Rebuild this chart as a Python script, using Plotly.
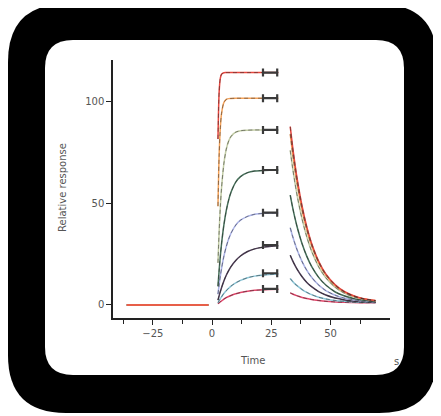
import plotly.graph_objects as go

# ---------------- data ----------------
series_names = ["C1", "C2", "C3", "C4", "C5", "C6", "C7", "C8"]
series_colors = ["#e8473f", "#f4a259", "#c3cda6", "#46705a", "#aab2e6", "#4a3a52", "#8cc6d8", "#e2476b"]

baseline_x = [-36, -1.5]
baseline_y = [0, 0]

assoc_x = [2.5, 3, 3.5, 4, 5, 6, 7, 8, 10, 12, 15, 18, 22, 28]
assoc_c1 = [81.6, 104.9, 111.6, 113.5, 114.2, 114.3, 114.3, 114.3, 114.3, 114.3, 114.3, 114.3, 114.3, 114.3]
assoc_c2 = [48.6, 74.0, 87.2, 94.1, 99.6, 101.1, 101.5, 101.6, 101.7, 101.7, 101.7, 101.7, 101.7, 101.7]
assoc_c3 = [20.7, 36.4, 48.4, 57.4, 69.6, 76.6, 80.6, 82.9, 85.0, 85.7, 86.0, 86.1, 86.1, 86.1]
assoc_c4 = [9.2, 17.2, 24.1, 30.0, 39.4, 46.4, 51.6, 55.4, 60.4, 63.1, 65.1, 65.9, 66.2, 66.4]
assoc_c5 = [5.3, 10.0, 14.2, 17.9, 24.0, 28.7, 32.4, 35.3, 39.3, 41.7, 43.6, 44.6, 45.1, 45.3]
assoc_c6 = [2.4, 4.6, 6.6, 8.5, 11.8, 14.6, 16.9, 18.9, 21.9, 24.1, 26.3, 27.6, 28.5, 29.1]
assoc_c7 = [1.1, 2.2, 3.1, 4.0, 5.7, 7.0, 8.2, 9.3, 10.9, 12.1, 13.4, 14.2, 14.8, 15.3]
assoc_c8 = [0.6, 1.1, 1.6, 2.0, 2.9, 3.6, 4.2, 4.7, 5.5, 6.1, 6.8, 7.2, 7.5, 7.7]

dissoc_x = [33, 34, 35, 36, 38, 40, 42, 45, 48, 52, 56, 60, 64, 69]
dissoc_c1 = [87.7, 77.9, 69.2, 61.5, 48.6, 38.4, 30.4, 21.5, 15.3, 9.9, 6.5, 4.4, 3.1, 2.2]
dissoc_c2 = [84.0, 74.6, 66.3, 58.9, 46.6, 36.8, 29.2, 20.7, 14.7, 9.5, 6.3, 4.3, 3.0, 2.1]
dissoc_c3 = [76.0, 67.5, 60.0, 53.3, 42.2, 33.4, 26.5, 18.8, 13.4, 8.7, 5.7, 3.9, 2.8, 2.0]
dissoc_c4 = [54.0, 48.0, 42.7, 38.0, 30.1, 23.9, 19.0, 13.6, 9.8, 6.4, 4.4, 3.1, 2.3, 1.7]
dissoc_c5 = [38.0, 33.8, 30.1, 26.8, 21.3, 17.0, 13.6, 9.8, 7.1, 4.8, 3.3, 2.5, 1.9, 1.5]
dissoc_c6 = [24.5, 21.8, 19.5, 17.4, 13.9, 11.1, 9.0, 6.6, 4.9, 3.4, 2.5, 1.9, 1.6, 1.3]
dissoc_c7 = [13.0, 11.6, 10.4, 9.4, 7.6, 6.2, 5.1, 3.8, 3.0, 2.2, 1.8, 1.5, 1.3, 1.2]
dissoc_c8 = [6.0, 5.4, 4.9, 4.5, 3.7, 3.2, 2.7, 2.2, 1.8, 1.5, 1.3, 1.2, 1.1, 1.1]

plateau_x = 24.5
plateau_halfwidth = 3.0
plateau_y = [114.3, 101.7, 86.1, 66.4, 45.4, 29.5, 15.6, 7.9]

x_tickvals = [-25, 0, 25, 50]
x_minor_tickvals = [-37.5, -12.5, 12.5, 37.5, 62.5]
y_tickvals = [0, 50, 100]

assoc_all = [assoc_c1, assoc_c2, assoc_c3, assoc_c4, assoc_c5, assoc_c6, assoc_c7, assoc_c8]
dissoc_all = [dissoc_c1, dissoc_c2, dissoc_c3, dissoc_c4, dissoc_c5, dissoc_c6, dissoc_c7, dissoc_c8]

# ---------------- layout geometry (figure pixels; page adds 8px body margin) ----------------
OFF = 8
W, H = 433, 408
L, T = 113 - OFF, 60 - OFF
PR, PB = 390 - OFF, 318 - OFF
R, B = W - PR, H - PB
PW, PH = PR - L, PB - T


def px(xp, yp):
    """page pixel -> paper coordinates"""
    xp -= OFF
    yp -= OFF
    return (xp - L) / PW, (PB - yp) / PH


def rr_path(x0, y0, x1, y1, r):
    def p(a, b):
        u, v = px(a, b)
        return f"{u:.5f},{v:.5f}"
    return (f"M {p(x0 + r, y0)} L {p(x1 - r, y0)} Q {p(x1, y0)} {p(x1, y0 + r)} "
            f"L {p(x1, y1 - r)} Q {p(x1, y1)} {p(x1 - r, y1)} "
            f"L {p(x0 + r, y1)} Q {p(x0, y1)} {p(x0, y1 - r)} "
            f"L {p(x0, y0 + r)} Q {p(x0, y0)} {p(x0 + r, y0)} Z")


fig = go.Figure()

order = list(range(7, -1, -1))
for i in order:
    c = series_colors[i]
    xs = baseline_x + [None] + assoc_x + [None] + dissoc_x
    ys = baseline_y + [None] + assoc_all[i] + [None] + dissoc_all[i]
    fig.add_trace(go.Scatter(x=xs, y=ys, mode="lines", line=dict(color=c, width=1.5, shape="spline", smoothing=0.8),
                             showlegend=False, hoverinfo="skip"))
for i in order:
    xs = assoc_x + [None] + dissoc_x
    ys = assoc_all[i] + [None] + dissoc_all[i]
    fig.add_trace(go.Scatter(x=xs, y=ys, mode="lines",
                             line=dict(color="rgba(40,40,40,0.5)", width=1, dash="4px,3px", shape="spline", smoothing=0.8),
                             showlegend=False, hoverinfo="skip"))

fig.add_trace(go.Scatter(
    x=[plateau_x] * len(plateau_y), y=plateau_y, mode="markers",
    marker=dict(size=1, color="rgba(0,0,0,0)"),
    error_x=dict(type="constant", value=plateau_halfwidth, color="#3a3a3a", thickness=2.2, width=4),
    showlegend=False, hoverinfo="skip"))

axis_common = dict(showgrid=False, zeroline=False, showline=True, linecolor="#222", linewidth=1.5,
                   ticks="outside", ticklen=5, tickwidth=1.3, tickcolor="#222",
                   tickfont=dict(family="DejaVu Sans", size=10, color="#555"))

fig.update_layout(
    width=W, height=H,
    margin=dict(l=L, r=R, t=T, b=B, autoexpand=False),
    paper_bgcolor="white", plot_bgcolor="rgba(0,0,0,0)",
    xaxis=dict(range=[-41.8, 75.1], tickvals=x_tickvals,
               minor=dict(tickvals=x_minor_tickvals, ticks="outside", ticklen=4, tickwidth=1.2, tickcolor="#222"),
               **axis_common),
    yaxis=dict(range=[-6.4, 120.5], tickvals=y_tickvals, **axis_common),
    shapes=[
        dict(type="path", xref="paper", yref="paper", path=rr_path(8, 4, 437, 413, 58),
             fillcolor="black", line=dict(width=0), layer="below"),
        dict(type="path", xref="paper", yref="paper", path=rr_path(45, 40, 404, 375, 28),
             fillcolor="white", line=dict(width=0), layer="below"),
    ],
    annotations=[
        dict(text="Relative response", x=px(62, 188)[0], y=px(62, 188)[1], xref="paper", yref="paper",
             xanchor="center", yanchor="middle",
             showarrow=False, textangle=-90, font=dict(family="DejaVu Sans", size=10, color="#555")),
        dict(text="Time", x=px(252, 360)[0], y=px(252, 360)[1], xref="paper", yref="paper",
             xanchor="center", yanchor="middle",
             showarrow=False, font=dict(family="DejaVu Sans", size=10, color="#555")),
        dict(text="s", x=px(396, 361)[0], y=px(396, 361)[1], xref="paper", yref="paper",
             xanchor="center", yanchor="middle",
             showarrow=False, font=dict(family="DejaVu Sans", size=10, color="#555")),
    ],
)

fig.write_html("out.html")
